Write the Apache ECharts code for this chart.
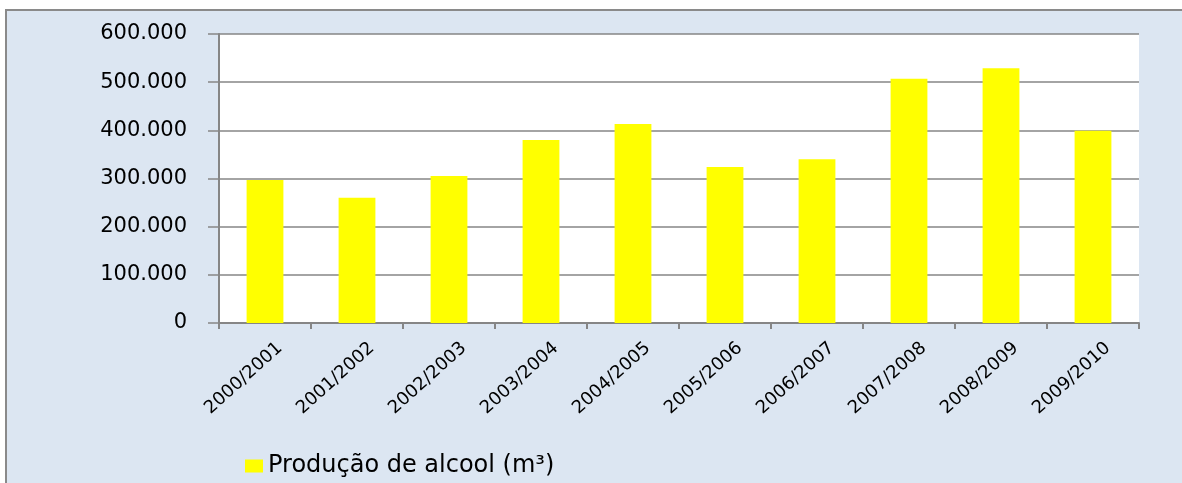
<!DOCTYPE html>
<html>
<head>
<meta charset="utf-8">
<script src="https://cdn.jsdelivr.net/npm/echarts@6/dist/echarts.min.js"></script>
<style>
  html, body { margin: 0; padding: 0; background: #ffffff; }
  #chart { width: 1182px; height: 483px; }
</style>
</head>
<body>
<div id="chart"></div>
<script>
// data
const safras = ["2000/2001", "2001/2002", "2002/2003", "2003/2004", "2004/2005",
                "2005/2006", "2006/2007", "2007/2008", "2008/2009", "2009/2010"];
const producao = [297000, 260000, 305000, 380000, 413000, 324000, 340000, 507000, 529000, 399000];
const serieNome = "Produção de alcool (m³)";

// 600000 -> "600.000"
function fmtMil(v) {
  return String(v).replace(/\B(?=(\d{3})+(?!\d))/g, ".");
}

let chart = echarts.init(document.getElementById("chart"));

let option = {
  animation: false,
  textStyle: { fontFamily: "DejaVu Sans" },
  graphic: [
    {
      type: "rect",
      z: -10,
      shape: { x: 6, y: 10, width: 1200, height: 490 },
      style: { fill: "#dce6f2", stroke: "#8a8a8a", lineWidth: 2 },
    },
  ],
  grid: {
    left: 219,
    top: 34,
    right: 43,
    bottom: 160,
    show: true,
    backgroundColor: "#ffffff",
    borderWidth: 0,
  },
  legend: {
    data: [serieNome],
    left: 240,
    top: 449,
    itemWidth: 18,
    itemHeight: 13,
    itemGap: 9,
    icon: "rect",
    textStyle: { fontSize: 24, color: "#000", fontFamily: "DejaVu Sans" },
  },
  xAxis: {
    type: "category",
    data: safras,
    axisLine: { lineStyle: { color: "#868686", width: 2 } },
    axisTick: { show: true, length: 6, lineStyle: { color: "#868686", width: 2 } },
    axisLabel: {
      rotate: 42,
      margin: 36,
      padding: [0, -20, 0, 0],
      fontSize: 18,
      color: "#000",
      fontFamily: "DejaVu Sans",
      interval: 0,
    },
  },
  yAxis: {
    type: "value",
    min: 0,
    max: 600000,
    interval: 100000,
    axisLine: { show: true, lineStyle: { color: "#868686", width: 2 } },
    axisTick: { show: true, inside: false, length: 11, lineStyle: { color: "#868686", width: 1.5 } },
    splitLine: { lineStyle: { color: "#868686", width: 1.5 } },
    axisLabel: {
      margin: 32,
      fontSize: 21,
      color: "#000",
      fontFamily: "DejaVu Sans",
      formatter: fmtMil,
    },
  },
  series: [
    {
      name: serieNome,
      type: "bar",
      data: producao,
      barWidth: "40%",
      itemStyle: { color: "#ffff00" },
    },
  ],
};

chart.setOption(option);
</script>
</body>
</html>
